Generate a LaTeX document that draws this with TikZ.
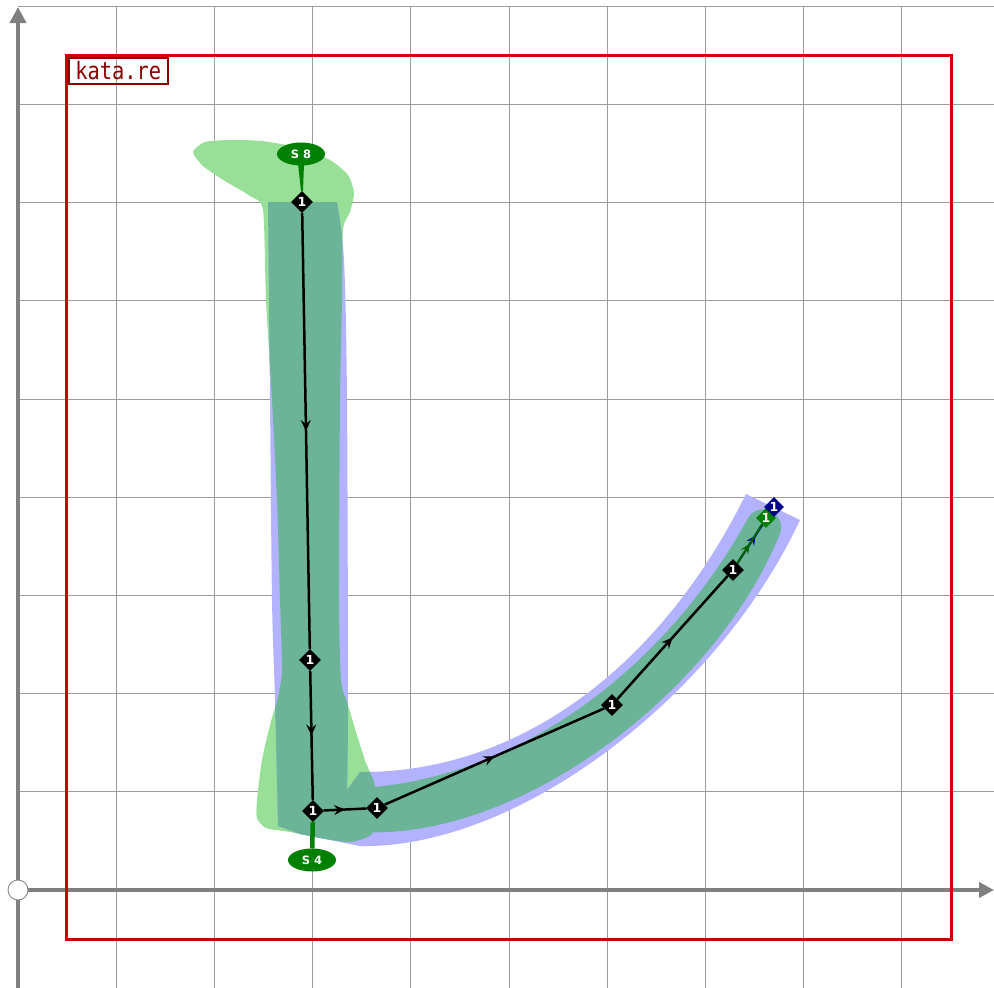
\documentclass[tikz,border=0pt]{standalone}
\usepackage{fontspec}
\usetikzlibrary{shapes.geometric,arrows.meta,decorations.markings,calc}
\newfontfamily\dgfont{DejaVu Sans}
\newfontfamily\katafont[FakeStretch=0.85]{DejaVu Sans Mono}
\definecolor{gridc}{RGB}{155,155,155}
\definecolor{axisc}{RGB}{128,128,128}
\definecolor{redc}{RGB}{204,0,0}
\definecolor{darkredc}{RGB}{139,0,0}
\definecolor{lgreen}{RGB}{152,224,152}
\definecolor{lblue}{RGB}{178,178,255}
\definecolor{tealc}{RGB}{108,180,152}
\definecolor{sgreen}{RGB}{0,128,0}
\definecolor{navyc}{RGB}{0,0,139}
\definecolor{dkgreen}{RGB}{0,100,0}
\begin{document}
\begin{tikzpicture}[x=1pt,y=-1pt,
  gridline/.style={gridc, line width=1pt},
  axisline/.style={axisc, line width=4pt},
  seg/.style={line width=2.5pt, draw=black, postaction={decorate},
    decoration={markings, mark=at position 0.5 with {\arrow{Stealth[length=11pt,width=10pt,inset=4pt]}}}},
  thinseg/.style={line width=2pt, postaction={decorate},
    decoration={markings, mark=at position 0.5 with {\arrow{Stealth[length=10pt,width=9pt,inset=4pt]}}}},
  dia/.style={diamond, fill=black, minimum size=22pt, inner sep=0pt, text=white,
    font=\dgfont\bfseries\fontsize{12.5}{12.5}\selectfont},
  smalldia/.style={dia, minimum size=20pt},
  slabel/.style={ellipse, fill=sgreen, text=white, minimum width=48pt, minimum height=23pt,
    inner sep=0pt, font=\dgfont\bfseries\fontsize{11.5}{11.5}\selectfont}
]
\useasboundingbox (0,0) rectangle (994,988);
% grid
\foreach \i in {1,...,9} {\draw[gridline] ({18+98.2*\i},6) -- ({18+98.2*\i},988);}
\foreach \j in {1,...,9} {\draw[gridline] (18,{890-98.2*\j}) -- (994,{890-98.2*\j});}
% axes
\draw[axisline, -{Triangle[length=16pt,width=16pt]}] (18,988) -- (18,7);
\draw[axisline, -{Triangle[length=15pt,width=15pt]}] (18,890) -- (994,890);
\node[circle, draw=axisc, fill=white, minimum size=20pt, inner sep=0pt, line width=0.8pt] (o) at (18,890) {};
% red frame
\draw[redc, line width=3pt] (66,55) rectangle (951,939);
\node[draw=darkredc, line width=1.5pt, text=darkredc, font=\katafont\fontsize{24}{24}\selectfont,
  inner sep=0pt, minimum width=99pt, minimum height=26pt, anchor=north west] (lbl) at (68,57) {kata.re};
% stroke shapes
\path[save path=\greenp] plot[smooth cycle, tension=0.4] coordinates {
  (193,152) (205,142) (230,140) (262,141) (300,148) (330,160) (348,175) (354,193) (350,212) (343,230)
  (342,300) (340,400) (339,600) (341,680) (348,705) (357,735) (366,763) (374,782) (378,808) (372,834)
  (350,842) (320,838) (290,832) (266,828) (257,818) (257,800) (262,760) (270,725) (278,697) (282,670)
  (280,600) (277,500) (272,400) (266,300) (263,210) (250,196) (225,181) (203,166)};
\path[save path=\bluep] (268,202) -- (337,202)
  -- plot[smooth, tension=0.5] coordinates {(337,202) (344,260) (347,400) (348,700) (347,790)}
  -- (360,772) .. controls (520,773) and (661,666) .. (746,494)
  -- (800,520) .. controls (719,694) and (520,849) .. (360,846)
  -- (300,834) -- (278,826)
  -- plot[smooth, tension=0.5] coordinates {(278,826) (275,700) (272,600) (270,400) (268,202)}
  -- cycle;
\fill[lgreen, use path=\greenp];
\fill[lblue, use path=\bluep];
\begin{scope}
  \clip[use path=\bluep];
  \fill[tealc, use path=\greenp];
\end{scope}
\fill[tealc] (360,788) .. controls (520,779) and (665,668) .. (747,520)
  .. controls (757,498) and (790,514) .. (779,536)
  .. controls (715,692) and (520,841) .. (360,832) -- cycle;
% nodes
\node[dia] (n1) at (302,202) {1};
\node[dia] (n2) at (310,660) {1};
\node[dia] (n3) at (313,811) {1};
\node[dia] (n4) at (377,808) {1};
\node[dia] (n5) at (612,705) {1};
\node[dia] (n6) at (733,570) {1};
\coordinate (nbc) at (774,507);
\node[slabel] (s8) at (301,154) {S 8};
\node[slabel] (s4) at (312,860) {S 4};
% pointers
\fill[sgreen] ($(s8.south)+(-3,-2)$) -- ($(s8.south)+(3,-2)$) -- ($(n1.north)+(1,0)$) -- ($(n1.north)+(-1,0)$) -- cycle;
\draw[sgreen, line width=4.5pt] (n3) -- (s4);
% path
\draw[seg] (n1) -- (n2);
\draw[seg] (n2) -- (n3);
\draw[seg] (n3) -- (n4);
\draw[seg] (n4) -- (n5);
\draw[seg] (n5) -- (n6);
\draw[thinseg, navyc] (n6) -- (nbc);
\node[smalldia, fill=sgreen] (ng) at (766,518) {1};
\draw[thinseg, dkgreen] (n6) -- (ng);
\node[smalldia, fill=navyc] (nb) at (nbc) {1};
\end{tikzpicture}
\end{document}
